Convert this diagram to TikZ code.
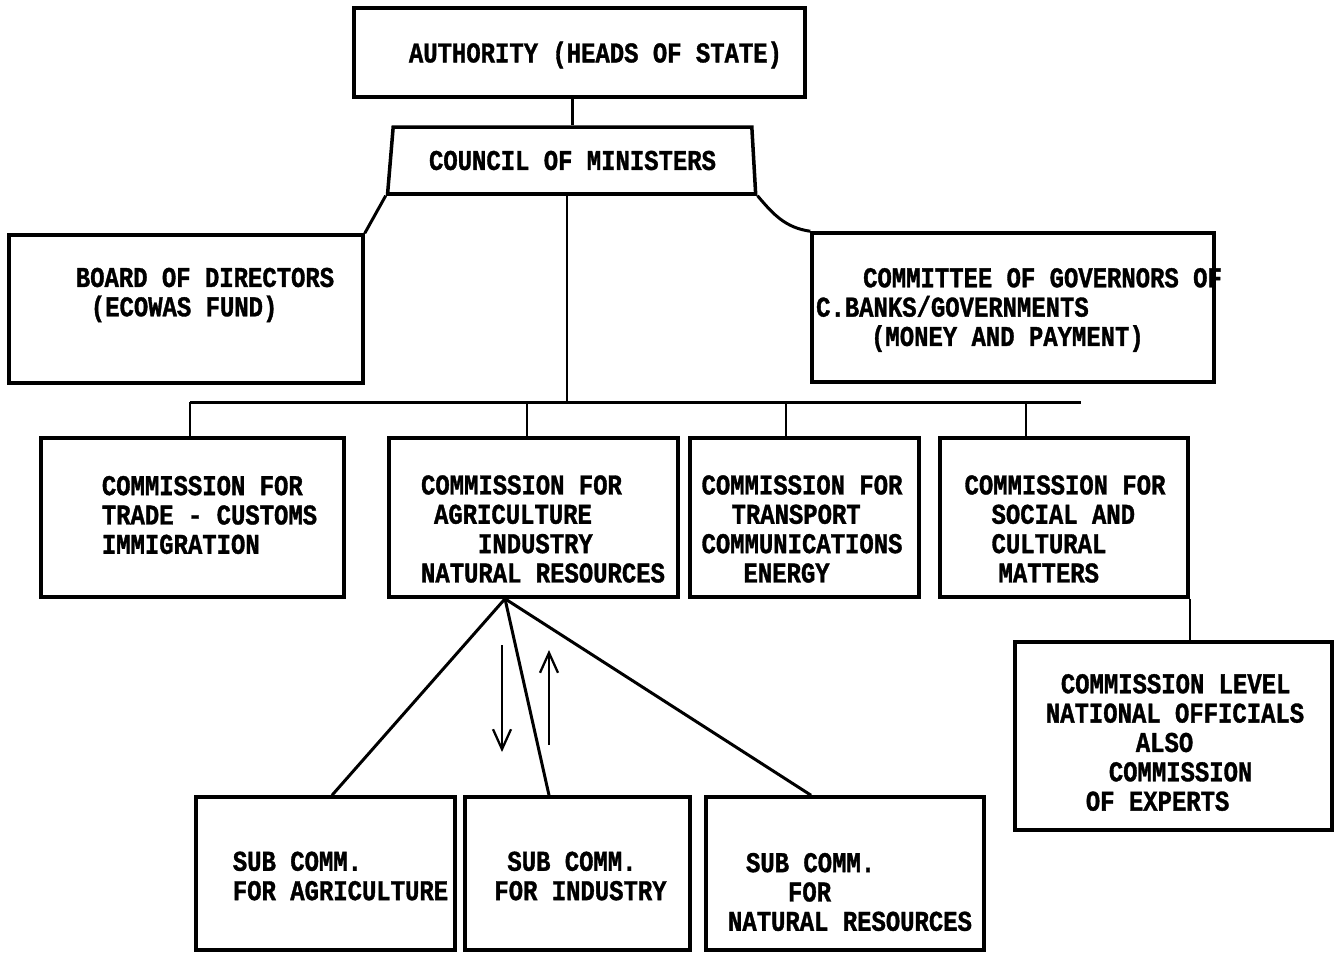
\documentclass[tikz,border=0pt]{standalone}
\usepackage{fontspec}
\setmonofont{Liberation Mono}[FakeStretch=0.835, BoldFeatures={FakeBold=1.2}]
\usetikzlibrary{fit,shapes.geometric,arrows.meta}
\begin{document}
\begin{tikzpicture}
      [x=0.02cm, y=-0.02cm,
      box/.style={draw, line width=2pt, inner sep=0pt},
      txt/.style={font=\ttfamily\bfseries\fontsize{16.3}{16.7}\selectfont, align=left, inner sep=0pt},
      link/.style={line width=1.7pt},
      thin/.style={line width=1.1pt},
      flow/.style={line width=1.3pt, -{Straight Barb[length=0.4cm, width=0.36cm]}}]
      \useasboundingbox (0,0) rectangle (1337,954);
      \node[box, fit={(354,8) (805,97)},
        label={[txt, xshift=0.32cm, yshift=-0.05cm]center:{AUTHORITY (HEADS OF STATE)}}] (authority) {};
      \node[box, txt, trapezium, trapezium left angle=77, trapezium right angle=81,
        trapezium stretches=true, minimum width=7.38cm, minimum height=1.34cm] (council) at (572.5,160.5) {COUNCIL OF MINISTERS};
      \node[box, fit={(9,235) (363,383)},
        label={[txt, xshift=0.38cm, yshift=0.28cm]center:{BOARD OF DIRECTORS\\\hspace*{0.3cm}(ECOWAS FUND)}}] (board) {};
      \node[box, fit={(812,233) (1214,382)},
        label={[txt, xshift=0.12cm, yshift=-0.05cm]center:{\hspace*{0.94cm}COMMITTEE OF GOVERNORS OF\\C.BANKS/GOVERNMENTS\\\hspace*{1.1cm}(MONEY AND PAYMENT)}}] (committee) {};
      \node[box, fit={(41,438) (344,597)},
        label={[txt, xshift=0.34cm, yshift=0.05cm]center:{COMMISSION FOR\\TRADE - CUSTOMS\\IMMIGRATION}}] (trade) {};
      \node[box, fit={(389,438) (678,597)},
        label={[txt, xshift=0.19cm, yshift=-0.23cm]center:{COMMISSION FOR\\\hspace*{0.26cm}AGRICULTURE\\\hspace*{1.14cm}INDUSTRY\\NATURAL RESOURCES}}] (agri) {};
      \node[box, fit={(690,438) (919,597)},
        label={[txt, xshift=-0.05cm, yshift=-0.23cm]center:{COMMISSION FOR\\\hspace*{0.6cm}TRANSPORT\\COMMUNICATIONS\\\hspace*{0.84cm}ENERGY}}] (transport) {};
      \node[box, fit={(940,438) (1188,597)},
        label={[txt, xshift=0.02cm, yshift=-0.23cm]center:{COMMISSION FOR\\\hspace*{0.54cm}SOCIAL AND\\\hspace*{0.54cm}CULTURAL\\\hspace*{0.68cm}MATTERS}}] (social) {};
      \node[box, fit={(1015,642) (1332,830)},
        label={[txt, xshift=0.03cm, yshift=-0.13cm]center:{\hspace*{0.3cm}COMMISSION LEVEL\\NATIONAL OFFICIALS\\\hspace*{1.8cm}ALSO\\\hspace*{1.26cm}COMMISSION\\\hspace*{0.8cm}OF EXPERTS}}] (experts) {};
      \node[box, fit={(196,797) (455,950)},
        label={[txt, xshift=0.3cm, yshift=-0.05cm]center:{SUB COMM.\\FOR AGRICULTURE}}] (subagri) {};
      \node[box, fit={(465,797) (690,950)},
        label={[txt, xshift=0.06cm, yshift=-0.05cm]center:{\hspace*{0.26cm}SUB COMM.\\FOR INDUSTRY}}] (subind) {};
      \node[box, fit={(706,797) (984,950)},
        label={[txt, xshift=0.1cm, yshift=-0.37cm]center:{\hspace*{0.36cm}SUB COMM.\\\hspace*{1.2cm}FOR\\NATURAL RESOURCES}}] (subres) {};
      \coordinate (busL) at (190,402);
      \coordinate (busR) at (1081,402);
      \coordinate (apex) at ([xshift=-0.57cm]agri.south);
      \coordinate (down1) at (502,645);
      \coordinate (down2) at (502,752);
      \coordinate (up1) at (549,745);
      \coordinate (up2) at (549,650);
      \draw[link] (council.north) -- (council.north |- authority.south);
      \draw[link] (council.bottom left corner) -- (board.north east);
      \draw[link] (council.bottom right corner) to[out=-50, in=172] (committee.north west);
      \draw[thin] ([xshift=-0.11cm]council.south) -- ([xshift=-0.11cm]council.south |- busL);
      \draw[link] (busL) -- (busR);
      \draw[thin] (busL) -- (busL |- trade.north);
      \draw[thin] ([xshift=-0.13cm]agri.north) -- ([xshift=-0.13cm]agri.north |- busL);
      \draw[thin] ([xshift=-0.37cm]transport.north) -- ([xshift=-0.37cm]transport.north |- busL);
      \draw[thin] ([xshift=-0.76cm]social.north) -- ([xshift=-0.76cm]social.north |- busL);
      \draw[thin] (social.south east) -- (social.south east |- experts.north);
      \draw[link] (apex) -- ([xshift=0.13cm]subagri.north);
      \draw[link] (apex) -- ([xshift=-0.57cm]subind.north);
      \draw[link] (apex) -- ([xshift=-0.68cm]subres.north);
      \draw[flow] (down1) -- (down2);
      \draw[flow] (up1) -- (up2);
\end{tikzpicture}
\end{document}
